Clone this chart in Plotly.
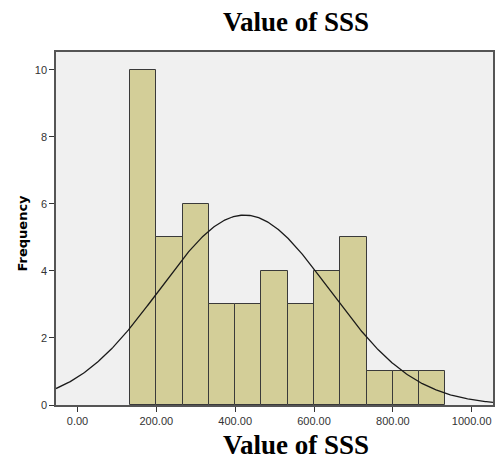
import numpy as np
import plotly.graph_objects as go

# Histogram of SSS values: 12 equal-width bins
bin_start = 133.33
bin_width = 66.67
counts = [10, 5, 6, 3, 3, 4, 3, 4, 5, 1, 1, 1]

# Normal curve parameters for the overlay
mean_sss = 423.5
sd_sss = 216.0

x_ticks = [0, 200, 400, 600, 800, 1000]
x_tick_labels = ["0.00", "200.00", "400.00", "600.00", "800.00", "1000.00"]
y_ticks = [0, 2, 4, 6, 8, 10]

n_total = sum(counts)
centers = [bin_start + bin_width * (i + 0.5) for i in range(len(counts))]

x_min, x_max = -54.5, 1054
xs = np.linspace(x_min, x_max, 400)
ys = n_total * bin_width / (sd_sss * np.sqrt(2 * np.pi)) * np.exp(-((xs - mean_sss) ** 2) / (2 * sd_sss ** 2))

fig = go.Figure()
fig.add_trace(go.Bar(
    x=centers, y=counts, width=bin_width,
    marker=dict(color="#D3CE98", line=dict(color="#3a3a3a", width=1)),
    hoverinfo="x+y",
))
fig.add_trace(go.Scatter(
    x=xs, y=ys, mode="lines",
    line=dict(color="#1a1a1a", width=1.3),
    hoverinfo="skip",
))

tick_font = dict(family="Arial, Liberation Sans, sans-serif", size=11, color="#333333")

fig.update_layout(
    width=503, height=464,
    margin=dict(l=56, r=8, t=52, b=59),
    paper_bgcolor="white",
    plot_bgcolor="#F0F0F0",
    showlegend=False,
    bargap=0,
    xaxis=dict(
        range=[x_min, x_max],
        tickvals=x_ticks, ticktext=x_tick_labels,
        ticks="outside", ticklen=5, tickcolor="#333333",
        showgrid=False, zeroline=False,
        showline=True, linecolor="#555555", linewidth=1.5, mirror=True,
        tickfont=tick_font,
    ),
    yaxis=dict(
        range=[0, 10.53],
        tickvals=y_ticks,
        ticks="outside", ticklen=5, tickcolor="#333333",
        showgrid=False, zeroline=False,
        showline=True, linecolor="#555555", linewidth=1.5, mirror=True,
        tickfont=tick_font,
    ),
    annotations=[
        dict(text="<b>Value of SSS</b>", xref="paper", yref="paper",
             x=0.55, y=1.0, yshift=30, xanchor="center", yanchor="middle",
             showarrow=False,
             font=dict(family="Liberation Serif, Times New Roman, serif", size=27, color="black")),
        dict(text="<b>Value of SSS</b>", xref="paper", yref="paper",
             x=0.55, y=0.0, yshift=-40, xanchor="center", yanchor="middle",
             showarrow=False,
             font=dict(family="Liberation Serif, Times New Roman, serif", size=27, color="black")),
        dict(text="<b>Frequency</b>", xref="paper", yref="paper",
             x=0.0, y=0.5, xshift=-34, yshift=-5, xanchor="center", yanchor="middle",
             textangle=-90, showarrow=False,
             font=dict(family="DejaVu Sans, sans-serif", size=13, color="black")),
    ],
)

fig.write_html("out.html")
